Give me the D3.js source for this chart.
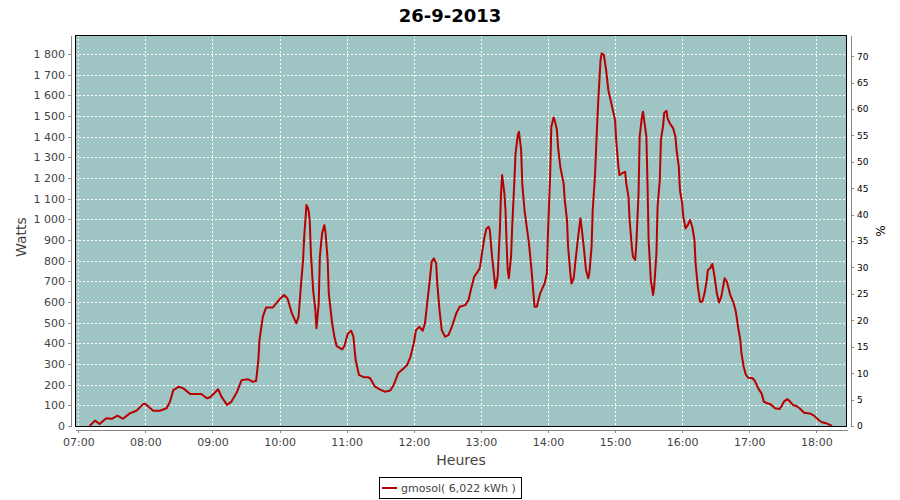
<!DOCTYPE html>
<html><head><meta charset="utf-8">
<script src="https://cdn.jsdelivr.net/npm/d3@7"></script>
<style>
body{margin:0;background:#fff}
svg{display:block;font-family:"DejaVu Sans",Verdana,sans-serif}
</style>
</head><body>
<svg id="c" width="900" height="500"></svg>
<script>
// ---- data ----
const times = ["07:10","07:15","07:19","07:25","07:30","07:35","07:40","07:46","07:52","07:58",
"08:00","08:07","08:13","08:19","08:22","08:25","08:30","08:34","08:40","08:46","08:50","08:55","08:58",
"09:05","09:08","09:13","09:17","09:22","09:26","09:32","09:36","09:39","09:41","09:42","09:45","09:48","09:54",
"10:00","10:04","10:07","10:11","10:15","10:17","10:19","10:21","10:22","10:24","10:25","10:26","10:27","10:28",
"10:30","10:32","10:33","10:35","10:36","10:38","10:40","10:41","10:43","10:44","10:47","10:49","10:51","10:56","10:58",
"11:01","11:04","11:06","11:08","11:11","11:15","11:19","11:21","11:25","11:30","11:34","11:39","11:42","11:46","11:51","11:54","11:57",
"12:00","12:02","12:05","12:08","12:10","12:12","12:14","12:16","12:18","12:20","12:21","12:23","12:25","12:28","12:31","12:34","12:38","12:41","12:46","12:49","12:51","12:54","12:57","12:59",
"13:01","13:03","13:05","13:07","13:08","13:10","13:12","13:13","13:15","13:17","13:18","13:19","13:21","13:22","13:23","13:24","13:25","13:27","13:28","13:30","13:31","13:33","13:34","13:36","13:37","13:39","13:41","13:43","13:45","13:47","13:48","13:50","13:53","13:55","13:57","13:59",
"14:00","14:02","14:03","14:05","14:06","14:08","14:09","14:11","14:14","14:15","14:17","14:18","14:20","14:21","14:23","14:25","14:27","14:29","14:30","14:32","14:34","14:36","14:37","14:39","14:40","14:42","14:44","14:45","14:46","14:47","14:48","14:50","14:52","14:54","14:56","14:58",
"15:00","15:01","15:03","15:04","15:06","15:09","15:10","15:12","15:13","15:15","15:16","15:18","15:19","15:21","15:22","15:24","15:25","15:26","15:28","15:29","15:30","15:32","15:34","15:35","15:37","15:38","15:40","15:41","15:43","15:44","15:46","15:47","15:49","15:52","15:54","15:55","15:57","15:58",
"16:00","16:01","16:03","16:05","16:07","16:09","16:11","16:12","16:14","16:16","16:18","16:20","16:22","16:23","16:25","16:27","16:29","16:31","16:33","16:35","16:38","16:40","16:43","16:46","16:48","16:50","16:52","16:53","16:55","16:57","16:59",
"17:03","17:05","17:08","17:11","17:13","17:16","17:19","17:23","17:27","17:29","17:31","17:34","17:36","17:39","17:42","17:45","17:49","17:54","17:58",
"18:02","18:05","18:09","18:12","18:14"];
const watts = [0,26,10,37,35,50,35,61,74,106,
106,74,74,86,118,174,190,182,155,155,155,134,139,
178,142,102,118,166,222,226,214,218,319,416,529,574,574,
613,634,618,545,497,529,674,803,916,1069,1060,1040,990,836,
658,561,473,594,819,932,972,940,803,642,497,432,387,371,387,
448,461,432,319,247,236,236,231,192,176,166,172,198,255,279,295,335,
400,464,480,461,497,594,690,795,811,787,690,561,464,432,440,480,545,577,585,610,658,722,746,763,
835,908,956,964,948,819,722,666,722,948,1126,1214,1126,1045,884,755,715,819,964,1190,1319,1408,1424,1335,1174,1045,964,884,771,642,577,577,642,666,690,739,
932,1222,1448,1493,1480,1432,1351,1254,1174,1093,997,867,739,690,715,819,916,1005,964,867,755,715,739,867,1045,1206,1464,1577,1674,1771,1803,1795,1722,1625,1577,1529,
1480,1384,1254,1214,1222,1230,1174,1109,997,867,819,803,880,1126,1400,1496,1521,1480,1400,1174,900,706,634,674,836,1061,1190,1384,1456,1516,1525,1488,1464,1440,1400,1335,1254,1142,
1077,1013,956,972,997,964,900,787,674,601,601,642,706,755,763,784,722,642,598,626,715,698,634,594,553,480,416,352,287,247,234,
231,218,182,158,118,110,105,86,82,97,118,131,121,102,97,86,64,61,50,
29,18,13,5,0];
const hourTicks = ["07:00","08:00","09:00","10:00","11:00","12:00","13:00","14:00","15:00","16:00","17:00","18:00"];
const wattTicks = [0,100,200,300,400,500,600,700,800,900,1000,1100,1200,1300,1400,1500,1600,1700,1800];
const pctTicks = [0,5,10,15,20,25,30,35,40,45,50,55,60,65,70];
const wattMax = 1892, pctMax = 74;
const xStart = "06:57:03", xEnd = "18:27:24";
const chartTitle = "26-9-2013";
const xLabel = "Heures", yLabel = "Watts", y2Label = "%";
const seriesName = "gmosol( 6,022 kWh )";

// ---- layout ----
const L = 75, R = 847, T = 35, B = 426;
const lineColor = "#b80000", plotBg = "#9ec4c3", textCol = "#444";

const svg = d3.select("#c");
const pHM = d3.timeParse("%H:%M"), pHMS = d3.timeParse("%H:%M:%S");
const data = times.map((t,i)=>({t:pHM(t), v:watts[i]}));

const x = d3.scaleTime().domain([pHMS(xStart), pHMS(xEnd)]).range([L, R]);
const y = d3.scaleLinear().domain([0, wattMax]).range([B, T]);
const y2 = d3.scaleLinear().domain([0, pctMax]).range([B, T]);
const loc = d3.formatLocale({decimal:",", thousands:" ", grouping:[3], currency:["","€"]});
const fmtW = loc.format(",d");

// plot background
svg.append("rect").attr("x",L).attr("y",T).attr("width",R-L).attr("height",B-T).attr("fill",plotBg);

// grid
const g = svg.append("g").attr("stroke","#fff").attr("stroke-dasharray","2,2").attr("shape-rendering","crispEdges");
g.selectAll(".gx").data(hourTicks.map(pHM)).join("line")
  .attr("x1",d=>Math.round(x(d))+0.5).attr("x2",d=>Math.round(x(d))+0.5).attr("y1",T).attr("y2",B);
g.selectAll(".gy").data(wattTicks).join("line")
  .attr("y1",d=>Math.round(y(d))+0.5).attr("y2",d=>Math.round(y(d))+0.5).attr("x1",L).attr("x2",R);

// series
svg.append("defs").append("clipPath").attr("id","clip").append("rect").attr("x",L).attr("y",T).attr("width",R-L).attr("height",B-T);
svg.append("path").datum(data).attr("clip-path","url(#clip)")
  .attr("fill","none").attr("stroke",lineColor).attr("stroke-width",2).attr("stroke-linejoin","round")
  .attr("d", d3.line().x(d=>x(d.t)).y(d=>y(d.v)));

// plot border
svg.append("rect").attr("x",L+0.5).attr("y",T+0.5).attr("width",R-L-1).attr("height",B-T).attr("fill","none").attr("stroke","#000").attr("shape-rendering","crispEdges");

function styleAxis(sel, col, size){
  sel.selectAll("path").attr("stroke","#888").attr("shape-rendering","crispEdges");
  sel.selectAll("line").attr("stroke","#888").attr("shape-rendering","crispEdges");
  sel.selectAll("text").attr("fill",col).style("font-size",size+"px").style("font-family",'"DejaVu Sans",Verdana,sans-serif');
}

// left axis
const ay = svg.append("g").attr("transform",`translate(${L-4},0)`)
  .call(d3.axisLeft(y).tickValues(wattTicks).tickFormat(fmtW).tickSizeInner(3).tickSizeOuter(0).tickPadding(3));
styleAxis(ay, textCol, 11);

// right axis
const ay2 = svg.append("g").attr("transform",`translate(${R+4},0)`)
  .call(d3.axisRight(y2).tickValues(pctTicks).tickSizeInner(3).tickSizeOuter(0).tickPadding(3));
styleAxis(ay2, "#000", 9);

// bottom axis
const ax = svg.append("g").attr("transform",`translate(0,${B+4})`)
  .call(d3.axisBottom(x).tickValues(hourTicks.map(pHM)).tickFormat(d3.timeFormat("%H:%M")).tickSizeInner(3).tickSizeOuter(0).tickPadding(5));
styleAxis(ax, textCol, 11);

// labels
svg.append("text").attr("x",450).attr("y",22).attr("text-anchor","middle")
  .style("font-size","18px").style("font-weight","bold").attr("fill","#000").text(chartTitle);
svg.append("text").attr("x",(L+R)/2).attr("y",465).attr("text-anchor","middle")
  .style("font-size","14px").attr("fill",textCol).text(xLabel);
svg.append("text").attr("transform",`translate(26,237) rotate(-90)`).attr("text-anchor","middle")
  .style("font-size","14px").attr("fill",textCol).text(yLabel);
svg.append("text").attr("transform",`translate(885,231) rotate(-90)`).attr("text-anchor","middle")
  .style("font-size","12px").attr("fill","#000").text(y2Label);

// legend
const lg = svg.append("g");
lg.append("rect").attr("x",379.5).attr("y",477.5).attr("width",142).attr("height",21).attr("fill","#fff").attr("stroke","#000");
lg.append("line").attr("x1",382).attr("x2",397).attr("y1",488).attr("y2",488).attr("stroke",lineColor).attr("stroke-width",2);
lg.append("text").attr("x",401).attr("y",492).style("font-size","11px").attr("fill",textCol).text(seriesName);
</script>
</body></html>
